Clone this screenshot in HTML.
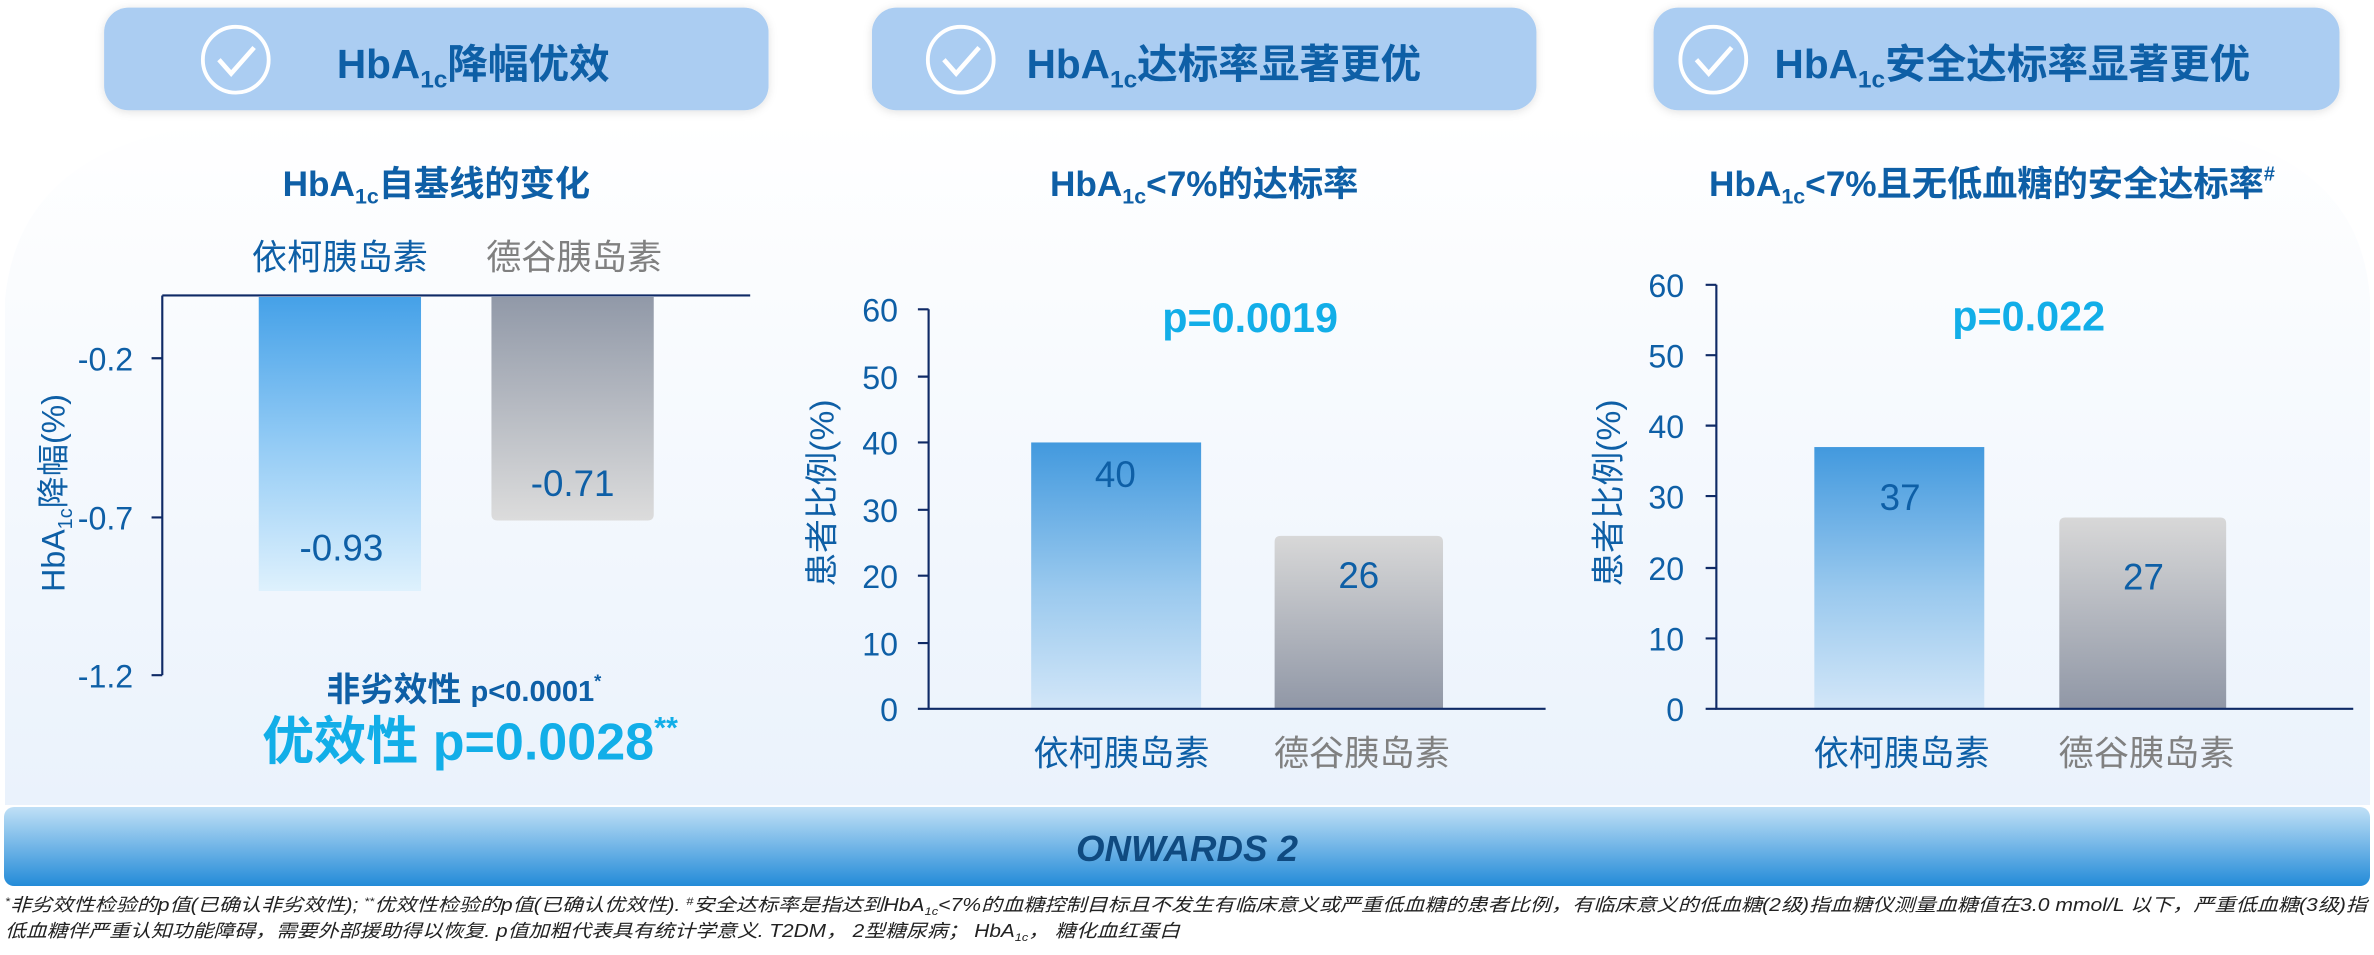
<!DOCTYPE html>
<html><head><meta charset="utf-8"><style>
html,body{margin:0;padding:0;background:#fff;}
svg{display:block;}
text{font-family:"Liberation Sans","Noto Sans CJK SC",sans-serif;}
</style></head><body>
<svg width="2374" height="955" viewBox="0 0 2374 955" xmlns="http://www.w3.org/2000/svg">
<defs>
<linearGradient id="bg" x1="0" y1="0" x2="0" y2="1"><stop offset="0" stop-color="#ffffff"/><stop offset="1" stop-color="#eaf2fc"/></linearGradient>
<linearGradient id="blueDown" x1="0" y1="0" x2="0" y2="1"><stop offset="0" stop-color="#45a1e8"/><stop offset="0.5" stop-color="#93cbf5"/><stop offset="1" stop-color="#def1fd"/></linearGradient>
<linearGradient id="grayDown" x1="0" y1="0" x2="0" y2="1"><stop offset="0" stop-color="#9199a8"/><stop offset="1" stop-color="#dcdcdc"/></linearGradient>
<linearGradient id="blueUp" x1="0" y1="0" x2="0" y2="1"><stop offset="0" stop-color="#4299de"/><stop offset="0.55" stop-color="#9ac9ee"/><stop offset="1" stop-color="#d2e6f8"/></linearGradient>
<linearGradient id="grayUp" x1="0" y1="0" x2="0" y2="1"><stop offset="0" stop-color="#d8d8d8"/><stop offset="1" stop-color="#9097a6"/></linearGradient>
<linearGradient id="banner" x1="0" y1="0" x2="0" y2="1"><stop offset="0" stop-color="#c0e0f6"/><stop offset="1" stop-color="#238bd8"/></linearGradient>
<filter id="sh" x="-5%" y="-20%" width="110%" height="140%"><feDropShadow dx="0" dy="1" stdDeviation="3" flood-color="#000" flood-opacity="0.12"/></filter>
</defs>
<rect x="0" y="0" width="2374" height="955" fill="#ffffff"/>
<path d="M5 805 L5 300 Q20 130 260 120 L2110 120 Q2360 130 2370 300 L2370 805 Z" fill="url(#bg)"/>

<!-- chart 1 -->
<g transform="scale(1.531)">
<rect x="68" y="5" width="434" height="67" rx="16" fill="#abcdf2" filter="url(#sh)"/>
<g fill="none" stroke="#fff" stroke-width="2.5"><circle cx="154" cy="39" r="21.5"/><path d="M143 39 L151 48 L166 31" stroke-width="3"/></g>
<text x="220" y="51" fill="#0e5fa6" font-weight="bold" font-size="26.5">HbA<tspan font-size="16" dy="6">1c</tspan><tspan dy="-6">降幅优效</tspan></text>
<text x="285" y="128" fill="#0e5fa6" font-weight="bold" font-size="23" text-anchor="middle">HbA<tspan font-size="14" dy="5">1c</tspan><tspan dy="-5">自基线的变化</tspan></text>
<text x="222" y="176" text-anchor="middle" font-size="23" fill="#0e5fa6">依柯胰岛素</text>
<text x="375" y="176" text-anchor="middle" font-size="23" fill="#808080">德谷胰岛素</text>
<rect x="169" y="194" width="106" height="192" fill="url(#blueDown)"/>
<path d="M321 194 H427 V336 Q427 340 423 340 H325 Q321 340 321 336 Z" fill="url(#grayDown)"/>
<g stroke="#0f2a66" stroke-width="1.4" fill="none">
<path d="M106 193 H490"/><path d="M106 193 V441"/>
<path d="M99 234 H106 M99 338 H106 M99 441 H106"/>
</g>
<g fill="#0e5fa6" font-size="21" text-anchor="end">
<text x="87" y="242">-0.2</text><text x="87" y="346">-0.7</text><text x="87" y="449">-1.2</text>
</g>
<g fill="#0e5fa6" font-size="24" text-anchor="middle">
<text x="223" y="366">-0.93</text><text x="374" y="324">-0.71</text>
</g>
<text transform="translate(42,322) rotate(-90)" text-anchor="middle" font-size="21" fill="#0e5fa6">HbA<tspan font-size="13" dy="5">1c</tspan><tspan dy="-5">降幅(%)</tspan></text>
<text x="303" y="458" text-anchor="middle" font-size="22" font-weight="bold" fill="#0e5fa6">非劣效性 <tspan font-size="19">p&lt;0.0001</tspan><tspan font-size="12" dy="-9">*</tspan></text>
<text x="307" y="496" text-anchor="middle" font-size="34" font-weight="bold" fill="#12aee8">优效性 p=0.0028<tspan font-size="20" dy="-14">**</tspan></text>
</g>

<!-- chart 2 -->
<g transform="translate(800,0) scale(1.531) translate(-800,0)">
<rect x="847" y="5" width="434" height="67" rx="16" fill="#abcdf2" filter="url(#sh)"/>
<g fill="none" stroke="#fff" stroke-width="2.5"><circle cx="905" cy="39" r="21.5"/><path d="M894 39 L902 48 L917 31" stroke-width="3"/></g>
<text x="948" y="51" fill="#0e5fa6" font-weight="bold" font-size="26.5">HbA<tspan font-size="16" dy="6">1c</tspan><tspan dy="-6">达标率显著更优</tspan></text>
<text x="1064" y="128" fill="#0e5fa6" font-weight="bold" font-size="23" text-anchor="middle">HbA<tspan font-size="14" dy="5">1c</tspan><tspan dy="-5">&lt;7%的达标率</tspan></text>
<rect x="951" y="289" width="111" height="174" fill="url(#blueUp)"/>
<path d="M1110 354 Q1110 350 1114 350 H1216 Q1220 350 1220 354 V463 H1110 Z" fill="url(#grayUp)"/>
<g stroke="#0f2a66" stroke-width="1.4" fill="none">
<path d="M884 202 V463 H1287"/>
<path d="M877 202 H884 M877 246 H884 M877 289 H884 M877 333 H884 M877 376 H884 M877 420 H884 M877 463 H884"/>
</g>
<g fill="#0e5fa6" font-size="21" text-anchor="end">
<text x="864" y="210">60</text><text x="864" y="254">50</text><text x="864" y="297">40</text><text x="864" y="341">30</text><text x="864" y="384">20</text><text x="864" y="428">10</text><text x="864" y="471">0</text>
</g>
<text transform="translate(822,322) rotate(-90)" text-anchor="middle" font-size="22" fill="#0e5fa6">患者比例(%)</text>
<text x="1094" y="217" text-anchor="middle" font-size="27" font-weight="bold" fill="#12aee8">p=0.0019</text>
<text x="1006" y="318" text-anchor="middle" font-size="24" fill="#0e5fa6">40</text>
<text x="1165" y="384" text-anchor="middle" font-size="24" fill="#0e5fa6">26</text>
<text x="1010" y="500" text-anchor="middle" font-size="23" fill="#0e5fa6">依柯胰岛素</text>
<text x="1167" y="500" text-anchor="middle" font-size="23" fill="#808080">德谷胰岛素</text>
</g>

<!-- chart 3 -->
<g transform="translate(1600,0) scale(1.531) translate(-1600,0)">
<rect x="1635" y="5" width="448" height="67" rx="16" fill="#abcdf2" filter="url(#sh)"/>
<g fill="none" stroke="#fff" stroke-width="2.5"><circle cx="1674" cy="39" r="21.5"/><path d="M1663 39 L1671 48 L1686 31" stroke-width="3"/></g>
<text x="1714" y="51" fill="#0e5fa6" font-weight="bold" font-size="26.5">HbA<tspan font-size="16" dy="6">1c</tspan><tspan dy="-6">安全达标率显著更优</tspan></text>
<text x="1856" y="128" fill="#0e5fa6" font-weight="bold" font-size="23" text-anchor="middle">HbA<tspan font-size="14" dy="5">1c</tspan><tspan dy="-5">&lt;7%且无低血糖的安全达标率</tspan><tspan font-size="13" dy="-10">#</tspan></text>
<rect x="1740" y="292" width="111" height="171" fill="url(#blueUp)"/>
<path d="M1900 342 Q1900 338 1904 338 H2005 Q2009 338 2009 342 V463 H1900 Z" fill="url(#grayUp)"/>
<g stroke="#0f2a66" stroke-width="1.4" fill="none">
<path d="M1676 186 V463 H2092"/>
<path d="M1669 186 H1676 M1669 232 H1676 M1669 278 H1676 M1669 324 H1676 M1669 371 H1676 M1669 417 H1676 M1669 463 H1676"/>
</g>
<g fill="#0e5fa6" font-size="21" text-anchor="end">
<text x="1655" y="194">60</text><text x="1655" y="240">50</text><text x="1655" y="286">40</text><text x="1655" y="332">30</text><text x="1655" y="379">20</text><text x="1655" y="425">10</text><text x="1655" y="471">0</text>
</g>
<text transform="translate(1613,322) rotate(-90)" text-anchor="middle" font-size="22" fill="#0e5fa6">患者比例(%)</text>
<text x="1880" y="216" text-anchor="middle" font-size="27" font-weight="bold" fill="#12aee8">p=0.022</text>
<text x="1796" y="333" text-anchor="middle" font-size="24" fill="#0e5fa6">37</text>
<text x="1955" y="385" text-anchor="middle" font-size="24" fill="#0e5fa6">27</text>
<text x="1797" y="500" text-anchor="middle" font-size="23" fill="#0e5fa6">依柯胰岛素</text>
<text x="1957" y="500" text-anchor="middle" font-size="23" fill="#808080">德谷胰岛素</text>
</g>

<!-- banner -->
<rect x="4" y="807" width="2366" height="79" rx="10" fill="url(#banner)"/>
<text x="1187" y="861" text-anchor="middle" font-size="36" font-weight="bold" font-style="italic" fill="#0f4a80" textLength="222" lengthAdjust="spacingAndGlyphs">ONWARDS 2</text>

<!-- footnotes -->
<g font-size="18" font-style="italic" fill="#222">
<text x="5" y="911" textLength="2362" lengthAdjust="spacingAndGlyphs"><tspan font-size="11" dy="-6">*</tspan><tspan dy="6">非劣效性检验的p值(已确认非劣效性); </tspan><tspan font-size="11" dy="-6">**</tspan><tspan dy="6">优效性检验的p值(已确认优效性). </tspan><tspan font-size="11" dy="-6">#</tspan><tspan dy="6">安全达标率是指达到HbA</tspan><tspan font-size="11" dy="4">1c</tspan><tspan dy="-4">&lt;7%的血糖控制目标且不发生有临床意义或严重低血糖的患者比例，有临床意义的低血糖(2级)指血糖仪测量血糖值在3.0 mmol/L 以下，严重低血糖(3级)指</tspan></text>
<text x="5" y="937" textLength="1175" lengthAdjust="spacingAndGlyphs">低血糖伴严重认知功能障碍，需要外部援助得以恢复. p值加粗代表具有统计学意义. T2DM， 2型糖尿病； HbA<tspan font-size="11" dy="4">1c</tspan><tspan dy="-4">， 糖化血红蛋白</tspan></text>
</g>
</svg>
</body></html>
